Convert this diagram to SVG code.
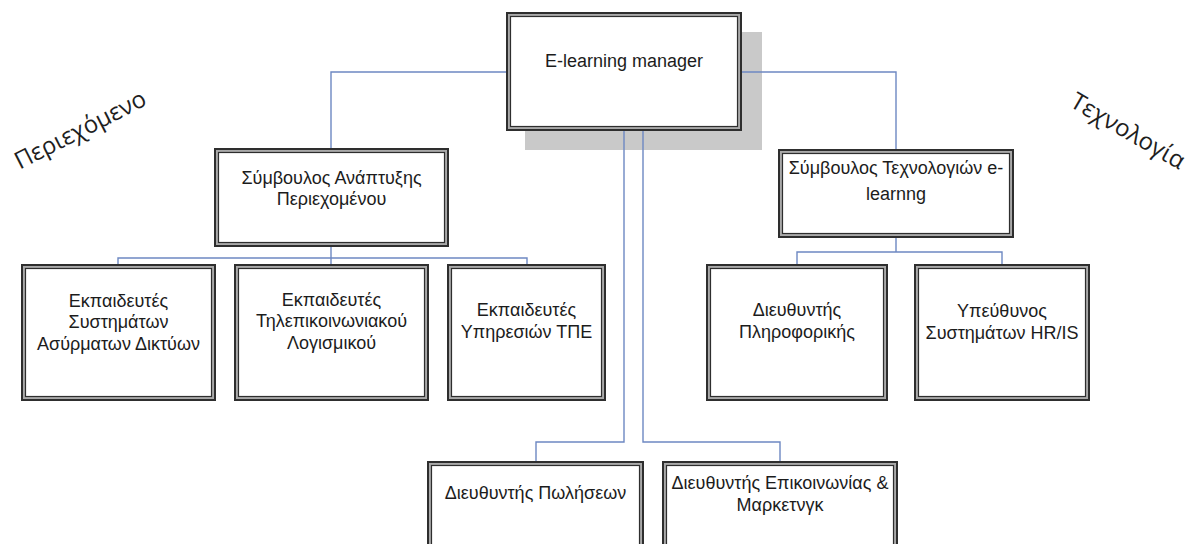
<svg xmlns="http://www.w3.org/2000/svg" width="1202" height="544" viewBox="0 0 1202 544">
  <style>
    .frame { fill: #a9a9a9; stroke: #2e2e2e; stroke-width: 2; }
    .face { fill: #ffffff; stroke: #2e2e2e; stroke-width: 1.2; }
    .shadow { fill: #c9c9c9; }
    .lbl { font-family: "Liberation Sans", Arial, sans-serif; font-size: 18px; fill: #1c1c1c; text-anchor: middle; }
    .side { font-family: "Open Sans", "Noto Sans", sans-serif; font-size: 24px; fill: #1e1e1e; text-anchor: middle; }
    .wire { fill: none; stroke: #6d88c2; stroke-width: 1.4; }
  </style>

  <rect width="1202" height="544" fill="#ffffff"/>

  <!-- drop shadow of the top box -->
  <rect class="shadow" x="525" y="32" width="237" height="118"/>

  <!-- connectors -->
  <g id="connectors">
    <path class="wire" d="M507,72 H331 V150"/>
    <path class="wire" d="M741,72 H896 V150"/>
    <path class="wire" d="M331,246 V265 M118,265 V258 H527 V265"/>
    <path class="wire" d="M896,237 V252 M797,265 V252 H1002 V265"/>
    <path class="wire" d="M624,130 V442 H536 V462"/>
    <path class="wire" d="M643,130 V442 H780 V462"/>
  </g>

  <!-- side captions -->
  <text class="side" transform="translate(84,137) rotate(-27)">Περιεχόμενο</text>
  <text class="side" transform="translate(1124,138) rotate(30)">Τεχνολογία</text>

  <g id="manager">
    <rect class="frame" x="507" y="13" width="234" height="117"/>
    <rect class="face" x="510.5" y="16.5" width="227" height="110"/>
    <text class="lbl" x="624" y="67">E-learning manager</text>
  </g>

  <g id="content-advisor">
    <rect class="frame" x="215" y="149" width="233" height="97"/>
    <rect class="face" x="218.5" y="152.5" width="226" height="90"/>
    <text class="lbl" x="331.5" y="184">Σύμβουλος Ανάπτυξης</text>
    <text class="lbl" x="331.5" y="205">Περιεχομένου</text>
  </g>

  <g id="tech-advisor">
    <rect class="frame" x="779" y="150" width="234" height="87"/>
    <rect class="face" x="782.5" y="153.5" width="227" height="80"/>
    <text class="lbl" x="896" y="174">Σύμβουλος Τεχνολογιών e-</text>
    <text class="lbl" x="896" y="200">learnng</text>
  </g>

  <g id="wireless-trainers">
    <rect class="frame" x="22" y="265" width="193" height="135"/>
    <rect class="face" x="25.5" y="268.5" width="186" height="128"/>
    <text class="lbl" x="118.5" y="307">Εκπαιδευτές</text>
    <text class="lbl" x="118.5" y="328">Συστημάτων</text>
    <text class="lbl" x="118.5" y="350">Ασύρματων Δικτύων</text>
  </g>

  <g id="telecom-trainers">
    <rect class="frame" x="235" y="265" width="193" height="135"/>
    <rect class="face" x="238.5" y="268.5" width="186" height="128"/>
    <text class="lbl" x="331.5" y="306">Εκπαιδευτές</text>
    <text class="lbl" x="331.5" y="327">Τηλεπικοινωνιακού</text>
    <text class="lbl" x="331.5" y="349">Λογισμικού</text>
  </g>

  <g id="ict-trainers">
    <rect class="frame" x="448" y="265" width="157" height="135"/>
    <rect class="face" x="451.5" y="268.5" width="150" height="128"/>
    <text class="lbl" x="526.5" y="316">Εκπαιδευτές</text>
    <text class="lbl" x="526.5" y="338">Υπηρεσιών ΤΠΕ</text>
  </g>

  <g id="it-director">
    <rect class="frame" x="707" y="265" width="180" height="135"/>
    <rect class="face" x="710.5" y="268.5" width="173" height="128"/>
    <text class="lbl" x="797" y="316">Διευθυντής</text>
    <text class="lbl" x="797" y="338">Πληροφορικής</text>
  </g>

  <g id="hris-officer">
    <rect class="frame" x="915" y="265" width="174" height="135"/>
    <rect class="face" x="918.5" y="268.5" width="167" height="128"/>
    <text class="lbl" x="1002" y="317">Υπεύθυνος</text>
    <text class="lbl" x="1002" y="339">Συστημάτων HR/IS</text>
  </g>

  <g id="sales-director">
    <rect class="frame" x="428" y="462" width="215" height="100"/>
    <rect class="face" x="431.5" y="465.5" width="208" height="100"/>
    <text class="lbl" x="535.5" y="499">Διευθυντής Πωλήσεων</text>
  </g>

  <g id="marketing-director">
    <rect class="frame" x="663" y="462" width="234" height="100"/>
    <rect class="face" x="666.5" y="465.5" width="227" height="100"/>
    <text class="lbl" x="780" y="489">Διευθυντής Επικοινωνίας &amp;</text>
    <text class="lbl" x="780" y="511">Μαρκετνγκ</text>
  </g>
</svg>
